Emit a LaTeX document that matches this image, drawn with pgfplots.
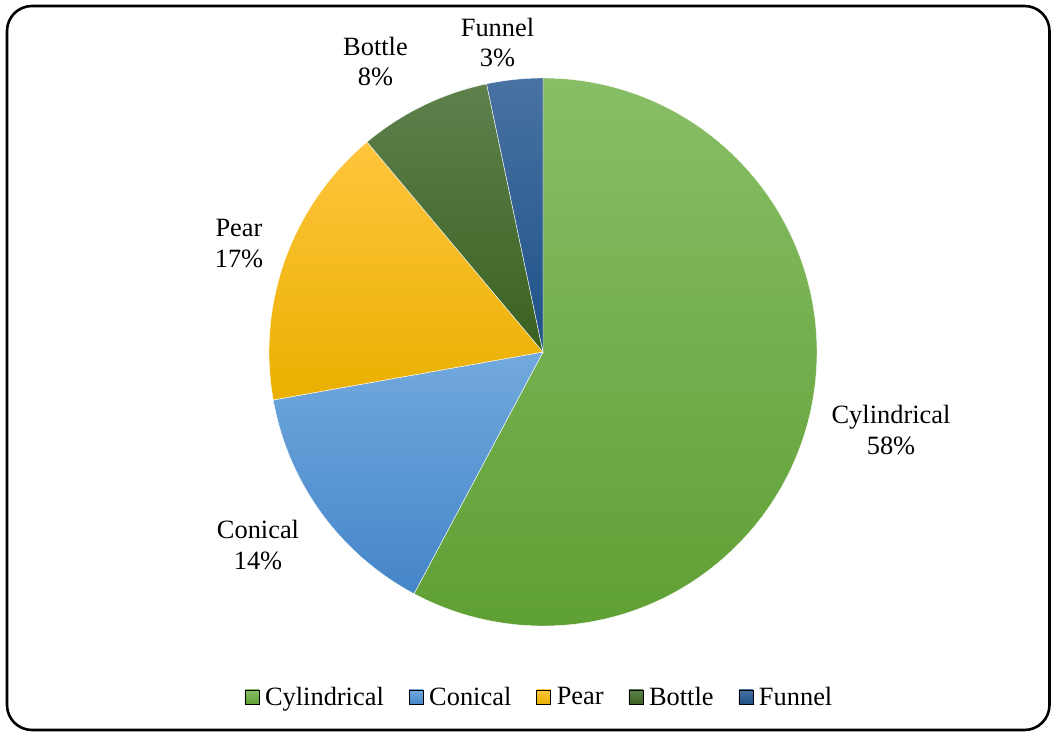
\documentclass[border=0pt]{standalone}
\usepackage{fontspec}
\setmainfont{Liberation Serif}
\usepackage{pgfplots}
\usepackage{pgfplotstable}
\pgfplotsset{compat=1.18}

\definecolor{c0t}{HTML}{88BE66}\definecolor{c0m}{HTML}{70AD47}\definecolor{c0b}{HTML}{5FA034}
\definecolor{c1t}{HTML}{72A9DE}\definecolor{c1m}{HTML}{5B9BD5}\definecolor{c1b}{HTML}{4485C8}
\definecolor{c2t}{HTML}{FFC53D}\definecolor{c2m}{HTML}{FFC000}\definecolor{c2b}{HTML}{E9B000}
\definecolor{c3t}{HTML}{5E814C}\definecolor{c3m}{HTML}{43682B}\definecolor{c3b}{HTML}{3A6120}
\definecolor{c4t}{HTML}{4872A2}\definecolor{c4m}{HTML}{255E91}\definecolor{c4b}{HTML}{1E5188}

\pgfplotstableread{
label value
Cylindrical 57.8
Conical 14.4
Pear 16.7
Bottle 7.8
Funnel 3.3
}\piedata

\newcommand{\lblfont}{\fontsize{26.5}{31}\selectfont}

\begin{document}
\begin{tikzpicture}
\begin{axis}[width=1051bp,height=733bp,scale only axis,
  xmin=0,xmax=1051,ymin=0,ymax=733,hide axis,clip=false,
  legend columns=-1,
  legend style={draw=none, fill=none, at={(axis cs:538.5,36)}, anchor=center,
    font=\lblfont,
    /tikz/every even column/.append style={column sep=25bp},
    /tikz/every odd column/.append style={column sep=6bp},
    nodes={inner sep=0pt}},
  legend image code/.code={\shade[#1] (0bp,-7bp) rectangle (14bp,7bp);}]

\addlegendimage{top color=c0t,bottom color=c0b}\addlegendentry{Cylindrical}
\addlegendimage{top color=c1t,bottom color=c1b}\addlegendentry{Conical}
\addlegendimage{top color=c2t,bottom color=c2b}\addlegendentry{Pear}
\addlegendimage{top color=c3t,bottom color=c3b}\addlegendentry{Bottle}
\addlegendimage{top color=c4t,bottom color=c4b}\addlegendentry{Funnel}

\def\startang{90}
\pgfplotsforeachungrouped \i in {0,...,4}{%
  \pgfplotstablegetelem{\i}{value}\of\piedata
  \pgfmathsetmacro\endang{\startang-3.6*\pgfplotsretval}%
  \pgfmathsetmacro\sx{543+274*cos(\startang)}%
  \pgfmathsetmacro\sy{381+274*sin(\startang)}%
  \edef\cmd{\noexpand\shadedraw[top color=c\i t, middle color=c\i m, bottom color=c\i b, draw=white, line width=0.4bp]
    (axis cs:543,381) -- (axis cs:\sx,\sy) arc[start angle=\startang, end angle=\endang, radius=274bp] -- cycle;}%
  \cmd
  \global\let\startang\endang
}

\node[align=center, font=\lblfont, inner sep=0pt] at (axis cs:891,303) {Cylindrical\\58\%};
\node[align=center, font=\lblfont, inner sep=0pt] at (axis cs:258,188) {Conical\\14\%};
\node[align=center, font=\lblfont, inner sep=0pt] at (axis cs:239,489.5) {Pear\\17\%};
\node[align=center, font=\lblfont, inner sep=0pt] at (axis cs:375.5,671.5) {Bottle\\8\%};
\node[align=center, font=\lblfont, inner sep=0pt] at (axis cs:497.5,690.5) {Funnel\\3\%};

\draw[line width=2.6bp, rounded corners=25bp] (axis cs:7,3) rectangle (axis cs:1049.5,727);
\end{axis}
\pgfresetboundingbox
\path (0,0) rectangle (1051bp,733bp);
\end{tikzpicture}
\end{document}
